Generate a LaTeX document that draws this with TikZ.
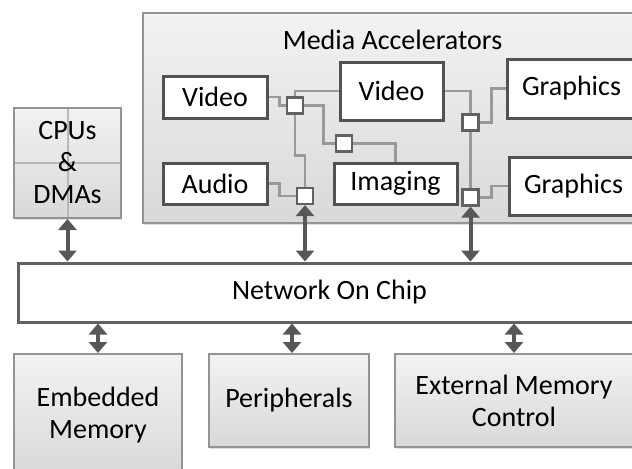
\documentclass[tikz,border=0pt]{standalone}
\usepackage{fontspec}
\setmainfont{Carlito}
\usepackage{tikz}
\usetikzlibrary{arrows.meta,shadows}

\begin{document}
\begin{tikzpicture}[x=0.5pt, y=-0.5pt,
    font=\fontsize{14pt}{16pt}\selectfont,
    unit/.style={draw=black!68, line width=1.5pt, fill=white, inner sep=0pt},
    router/.style={draw=black!62, line width=1.1pt, fill=white, minimum size=8pt, inner sep=0pt},
    greybox/.style={draw=black!42, line width=1pt, top color=black!5, bottom color=black!15,
        inner sep=0pt, align=center, drop shadow={opacity=0.25, shadow xshift=0.5pt, shadow yshift=-1pt}},
    link/.style={draw=black!40, line width=1.4pt},
    bus/.style={draw=black!66, line width=2pt, {Triangle[width=9pt,length=5.5pt]}-{Triangle[width=9pt,length=5.5pt]}}]
    \useasboundingbox (0,0) rectangle (632,468);
    \clip (0,0) rectangle (632,468);

    % media accelerator block
    \node[greybox, minimum width=260pt, minimum height=105pt] (media) at (403,118) {};
    \node (mediatitle) at (392.5,40) {Media Accelerators};

    \node[greybox, minimum width=53.5pt, minimum height=55pt,
        path picture={\draw[black!28, line width=1pt]
            (path picture bounding box.north) -- (path picture bounding box.south)
            (path picture bounding box.west) -- (path picture bounding box.east);}]
        (cpu) at (67.5,163) {CPUs\\\&\\DMAs};

    \node[unit, minimum width=52pt, minimum height=21pt] (vidA) at (215,97) {Video};
    \node[unit, minimum width=52pt, minimum height=20.5pt] (audio) at (215,183.5) {Audio};
    \node[unit, minimum width=51.5pt, minimum height=29pt] (vidB) at (391.5,91) {Video};
    \node[unit, minimum width=61.5pt, minimum height=20.5pt] (imaging) at (395.5,183.5) {Imaging};
    \node[unit, minimum width=64.5pt, minimum height=29.5pt] (gfxA) at (571.5,88.5) {Graphics};
    \node[unit, minimum width=64.5pt, minimum height=29pt] (gfxB) at (573.5,186) {Graphics};

    \node[router] (rtA) at (295,105.5) {};
    \node[router] (rtB) at (305,196) {};
    \node[router] (rtC) at (344,143.5) {};
    \node[router] (rtD) at (470.5,122.5) {};
    \node[router] (rtE) at (470.5,197.5) {};

    % links inside the accelerator block
    \draw[link] (vidA.east) -- ++(11,0) |- (rtA.west);
    \draw[link] (audio.east) -- ++(11,0) |- (rtB.west);
    \draw[link] (rtA.north) |- (vidB.west);
    \draw[link] (rtA.east) -- ++(19,0) |- (rtC.west);
    \draw[link] (rtC.east) -| (imaging.north);
    \draw[link] (rtA.south) -- ++(0,40.5) -| (rtB.north);
    \draw[link] (vidB.east) -| (rtD.north);
    \draw[link] (rtD.south) -- (rtE.north);
    \draw[link] (rtD.east) -- ++(12,0) |- (gfxA.west);
    \draw[link] (rtE.east) -- ++(12,0) |- (gfxB.west);

    \node[draw=black!62, line width=1.5pt, fill=white, minimum width=311.5pt, minimum height=29.5pt,
        inner sep=0pt] (noc) at (329.5,292.5) {Network On Chip};

    \node[greybox, minimum width=84pt, minimum height=61pt] (emb) at (98,415) {Embedded\\Memory};
    \node[greybox, minimum width=80pt, minimum height=46.5pt] (periph) at (289,400.5) {Peripherals};
    \node[greybox, minimum width=119pt, minimum height=46.5pt] (extmem) at (514,400.5) {External Memory\\Control};

    \draw[bus] (cpu.south) -- (cpu.south |- noc.north);
    \draw[bus] (rtB.south) -- (rtB.south |- noc.north);
    \draw[bus] (rtE.south) -- (rtE.south |- noc.north);
    \draw[bus] (noc.south -| emb.north) -- (emb.north);
    \draw[bus] (noc.south -| 292,0) -- (292,0 |- periph.north);
    \draw[bus] (noc.south -| extmem.north) -- (extmem.north);
\end{tikzpicture}
\end{document}
